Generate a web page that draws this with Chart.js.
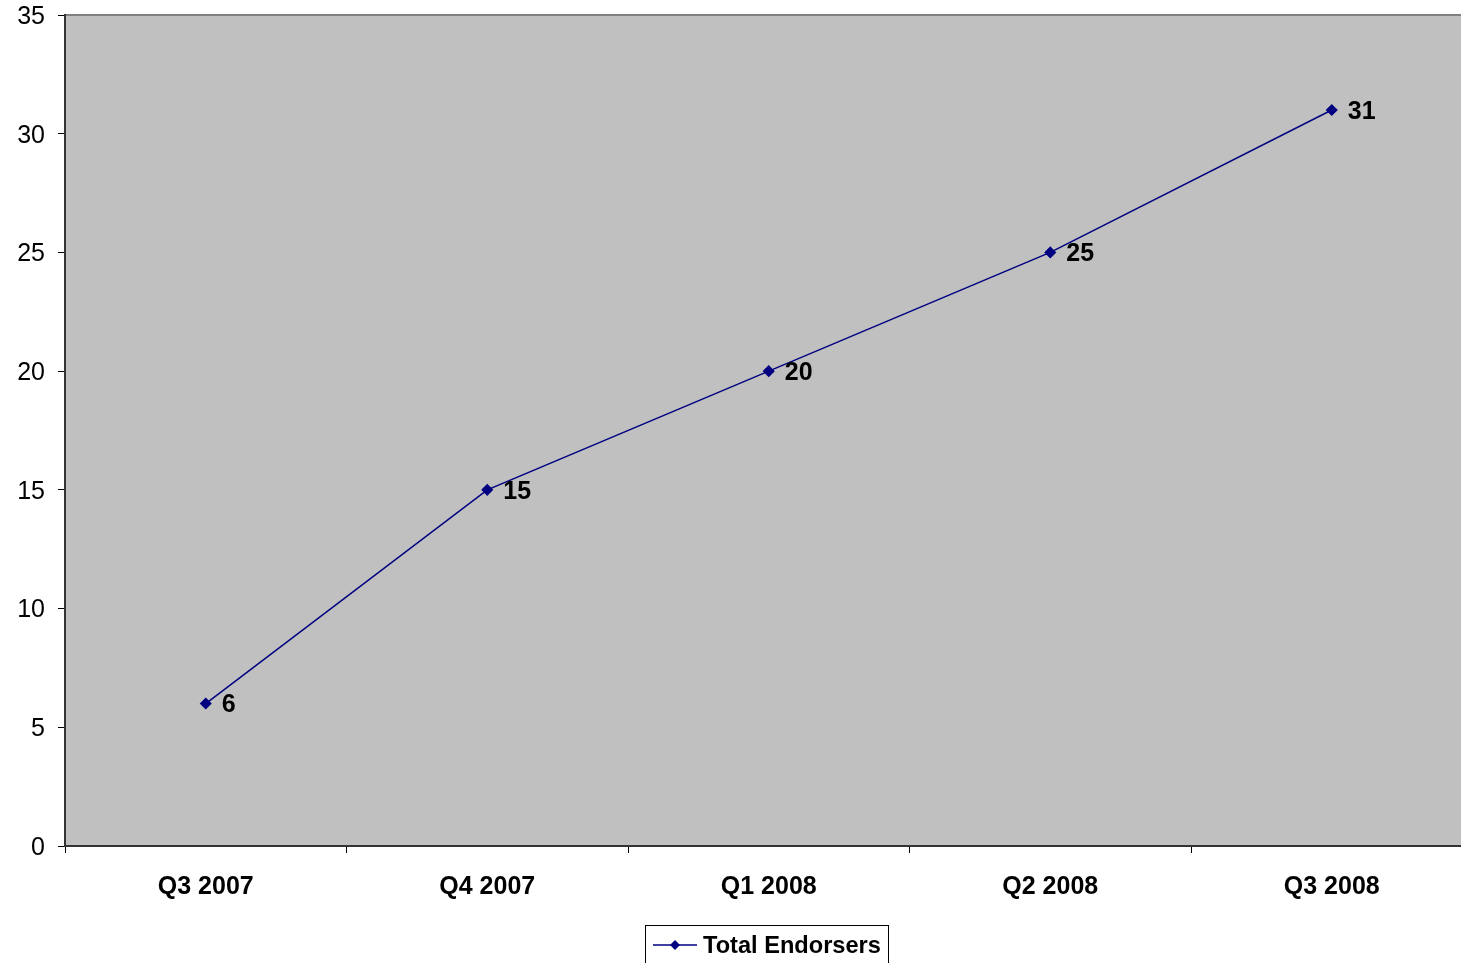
<!DOCTYPE html>
<html><head><meta charset="utf-8">
<script src="https://cdn.jsdelivr.net/npm/chart.js@4"></script>
<style>
html,body{margin:0;padding:0;background:#fff;overflow:hidden;width:1461px;height:963px;}
#wrap{position:absolute;left:0;top:0;width:1479px;height:963px;}
</style></head>
<body>
<div id="wrap"><canvas id="c" width="1479" height="963"></canvas></div>
<script>
const categories = ["Q3 2007","Q4 2007","Q1 2008","Q2 2008","Q3 2008"];
const seriesName = "Total Endorsers";
const values = [6, 15, 20, 25, 31];
const yTicks = [0,5,10,15,20,25,30,35];

const FONT = "'Liberation Sans', Arial, sans-serif";
const NAVY = '#000080';

const plotBg = {
  id:'plotBg',
  beforeDraw(chart){
    const {ctx, chartArea:a} = chart;
    ctx.save();
    ctx.fillStyle = '#C0C0C0';
    ctx.fillRect(a.left, a.top, a.right-a.left, a.bottom-a.top);
    ctx.strokeStyle = '#808080';
    ctx.lineWidth = 2;
    ctx.beginPath();
    ctx.moveTo(a.left, a.top); ctx.lineTo(a.right, a.top); ctx.lineTo(a.right, a.bottom);
    ctx.stroke();
    ctx.restore();
  }
};

const dataLabels = {
  id:'dataLabels',
  afterDatasetsDraw(chart){
    const {ctx} = chart;
    const meta = chart.getDatasetMeta(0);
    ctx.save();
    ctx.font = "bold 25px " + FONT;
    ctx.fillStyle = '#000';
    ctx.textAlign = 'left';
    ctx.textBaseline = 'middle';
    meta.data.forEach((pt, i) => {
      ctx.fillText(String(chart.data.datasets[0].data[i]), pt.x + 16, pt.y + 2);
    });
    ctx.restore();
  }
};

const customLegend = {
  id:'customLegend',
  afterDraw(chart){
    const {ctx} = chart;
    ctx.save();
    const bx = 645, by = 925, bw = 243, bh = 50;
    ctx.strokeStyle = '#000';
    ctx.lineWidth = 1;
    ctx.strokeRect(bx+0.5, by+0.5, bw, bh);
    ctx.strokeStyle = NAVY;
    ctx.lineWidth = 1.5;
    ctx.beginPath(); ctx.moveTo(653, 945); ctx.lineTo(697, 945); ctx.stroke();
    ctx.fillStyle = NAVY;
    ctx.beginPath();
    ctx.moveTo(675, 940); ctx.lineTo(680, 945); ctx.lineTo(675, 950); ctx.lineTo(670, 945); ctx.closePath();
    ctx.fill();
    ctx.font = "bold 23.6px " + FONT;
    ctx.fillStyle = '#000';
    ctx.textAlign = 'left';
    ctx.textBaseline = 'middle';
    ctx.fillText(seriesName, 703, 946);
    ctx.restore();
  }
};

new Chart(document.getElementById('c'), {
  type:'line',
  data:{
    labels: categories,
    datasets:[{
      label: seriesName,
      data: values,
      borderColor: NAVY,
      backgroundColor: NAVY,
      borderWidth: 1.5,
      pointStyle: 'rectRot',
      pointRadius: 5,
      pointHoverRadius: 5,
      pointBackgroundColor: NAVY,
      pointBorderColor: NAVY,
      tension: 0,
      clip: false
    }]
  },
  options:{
    responsive:false,
    animation:false,
    events:[],
    layout:{padding:{top:15, right:2, left:0, bottom:0}},
    plugins:{legend:{display:false}, tooltip:{enabled:false}},
    scales:{
      x:{
        offset:true,
        grid:{offset:true, drawOnChartArea:false, drawTicks:true, tickLength:7, color:'#000', lineWidth:1},
        border:{display:true, color:'#333', width:2},
        ticks:{font:{family:FONT, size:25, weight:'bold'}, color:'#000', padding:19, maxRotation:0},
        afterFit(s){ s.height = 117; s.paddingLeft = 0; s.paddingRight = 0; }
      },
      y:{
        min:0, max:35,
        afterBuildTicks(s){ s.ticks = yTicks.map(v=>({value:v})); },
        grid:{drawOnChartArea:false, drawTicks:true, tickLength:7, color:'#000', lineWidth:1},
        border:{display:true, color:'#333', width:2},
        ticks:{font:{family:FONT, size:25}, color:'#000', padding:13, labelOffset:2},
        afterFit(s){ s.width = 65; s.paddingTop = 0; s.paddingBottom = 0; }
      }
    }
  },
  plugins:[plotBg, dataLabels, customLegend]
});
</script>
</body></html>
